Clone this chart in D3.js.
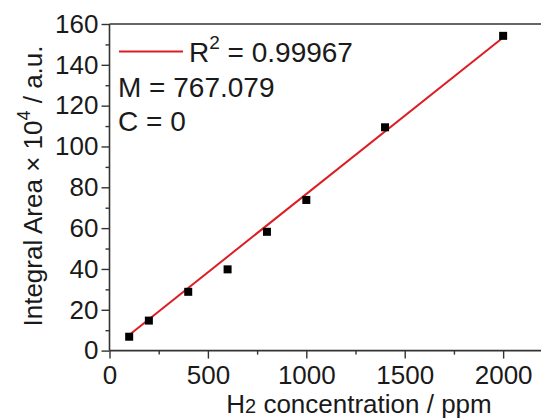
<!DOCTYPE html>
<html><head><meta charset="utf-8">
<script src="https://cdn.jsdelivr.net/npm/d3@7"></script>
<style>html,body{margin:0;padding:0;background:#fff;}svg{display:block;}</style>
</head><body>
<svg id="c" width="541" height="419"></svg>
<script>
const concentration = [100, 200, 400, 600, 800, 1000, 1400, 2000];
const integralArea = [6.8, 14.7, 28.8, 39.8, 58.2, 73.8, 109.4, 154.2];
const fitSlope = 767.079 / 1e4; // M / 10^4
const fitIntercept = 0;
const xTicks = [0, 500, 1000, 1500, 2000];
const yTicks = [0, 20, 40, 60, 80, 100, 120, 140, 160];
const legendLines = ["M = 767.079", "C = 0"];

const svg = d3.select("#c");
const font = "Liberation Sans, Arial, sans-serif";
const ink = "#1a1a1a";
const frame = "#333";

const x = d3.scaleLinear().domain([0, 2200]).range([109.5, 542.5]);
const y = d3.scaleLinear().domain([0, 160]).range([350.6, 24]);

svg.append("line").attr("x1", x(0)).attr("x2", x(2200)).attr("y1", y(160)).attr("y2", y(160))
  .attr("stroke", frame).attr("stroke-width", 1.6);

const xAxis = svg.append("g").attr("transform", `translate(0,${y(0)})`)
  .call(d3.axisBottom(x).tickValues(xTicks).tickSize(8).tickPadding(7).tickFormat(d3.format("d")));
xAxis.append("g").call(d3.axisBottom(x).tickValues(d3.range(250, 2200, 500)).tickSize(4).tickFormat(""));
const yAxis = svg.append("g").attr("transform", `translate(${x(0)},0)`)
  .call(d3.axisLeft(y).tickValues(yTicks).tickSize(8).tickPadding(3).tickFormat(d3.format("d")));
yAxis.append("g").call(d3.axisLeft(y).tickValues(d3.range(10, 160, 20)).tickSize(4).tickFormat(""));

svg.selectAll(".domain").attr("stroke", frame).attr("stroke-width", 1.6);
svg.selectAll(".tick line").attr("stroke", frame).attr("stroke-width", 1.4);
svg.selectAll(".tick text").attr("font-family", font).attr("font-size", 26).attr("fill", ink);
xAxis.selectAll(".domain").attr("d", `M${x(0)},0H${x(2200)}`);
yAxis.selectAll(".domain").attr("d", `M0,${y(0)}V${y(160)}`);
svg.selectAll("g g .domain").remove();

const fx = [concentration[0], concentration[concentration.length - 1]];
svg.append("line")
  .attr("x1", x(fx[0])).attr("y1", y(fitSlope * fx[0] + fitIntercept))
  .attr("x2", x(fx[1])).attr("y2", y(fitSlope * fx[1] + fitIntercept))
  .attr("stroke", "#dc1e24").attr("stroke-width", 2);

const s = 8;
svg.selectAll("rect.pt").data(concentration).join("rect").attr("class", "pt")
  .attr("x", (d) => x(d) - s / 2).attr("y", (d, i) => y(integralArea[i]) - s / 2)
  .attr("width", s).attr("height", s).attr("fill", "#000");

svg.append("line").attr("x1", 119).attr("x2", 183).attr("y1", 51.5).attr("y2", 51.5)
  .attr("stroke", "#dc1e24").attr("stroke-width", 2);
const r2 = svg.append("text").attr("x", 189).attr("y", 62).attr("font-family", font)
  .attr("font-size", 28).attr("fill", ink);
r2.append("tspan").text("R");
r2.append("tspan").attr("dy", -13).attr("font-size", 19).text("2");
r2.append("tspan").attr("dy", 13).text(" = 0.99967");
legendLines.forEach((t, i) => {
  svg.append("text").attr("x", 118).attr("y", 97 + i * 34).attr("font-family", font)
    .attr("font-size", 28).attr("fill", ink).text(t);
});

const xt = svg.append("text").attr("x", 359).attr("y", 413).attr("text-anchor", "middle")
  .attr("font-family", font).attr("font-size", 26).attr("fill", ink);
xt.append("tspan").text("H");
xt.append("tspan").attr("font-size", 20).text("2");
xt.append("tspan").text(" concentration / ppm");

const yt = svg.append("text").attr("transform", "translate(42,186) rotate(-90)")
  .attr("text-anchor", "middle").attr("font-family", font).attr("font-size", 26).attr("fill", ink);
yt.append("tspan").text("Integral Area \u00d7 10");
yt.append("tspan").attr("dy", -12).attr("font-size", 18).text("4");
yt.append("tspan").attr("dy", 12).text(" / a.u.");
</script>
</body></html>
